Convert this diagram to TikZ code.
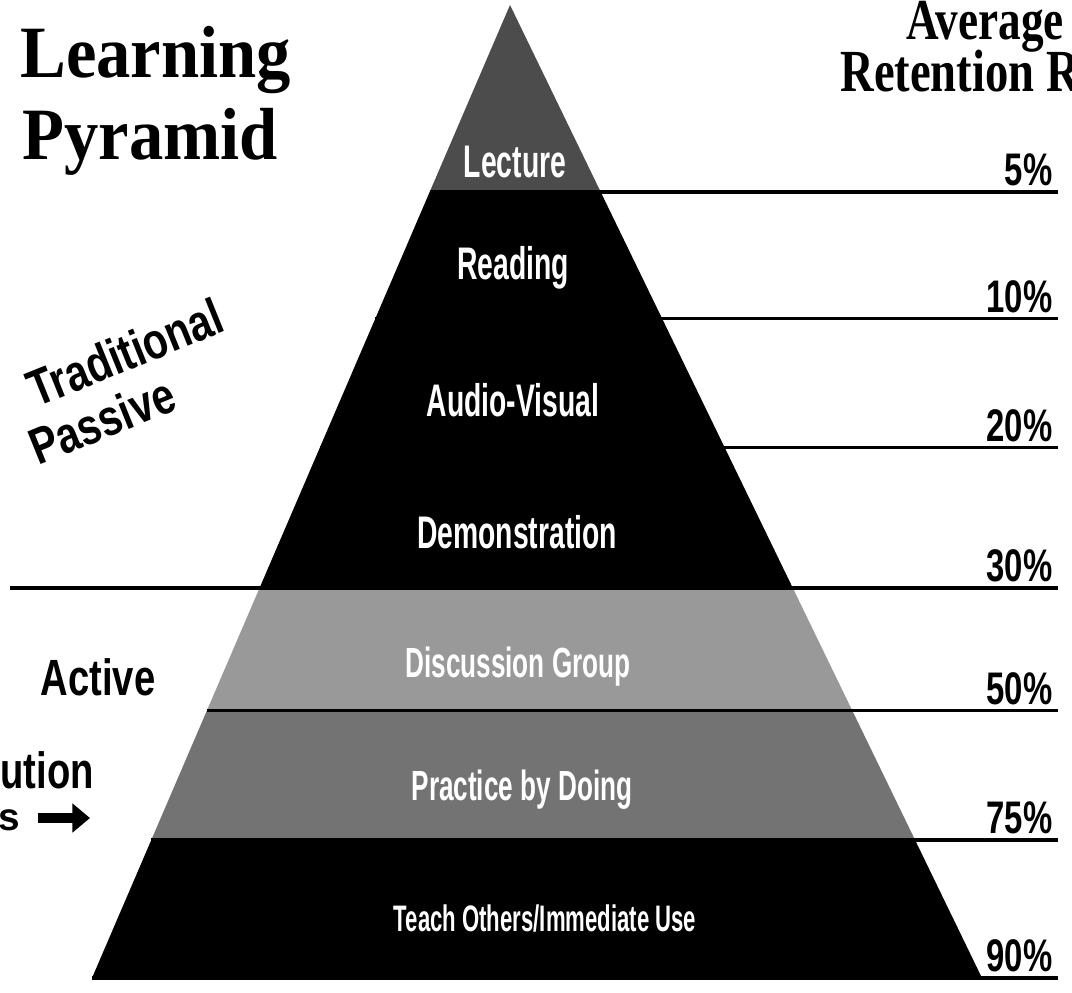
\documentclass[tikz,border=0pt]{standalone}
\usepackage{graphicx}
\usepackage{fontspec}
\setmainfont{Liberation Serif}
\newfontfamily\sansf{Liberation Sans}
\usetikzlibrary{calc, positioning, arrows.meta}

% condensed lettering
\newcommand{\squeeze}[2]{\scalebox{#1}[1]{#2}}

\begin{document}
\begin{tikzpicture}[x=0.02cm, y=-0.02cm,
    layer/.style={text=white, inner sep=0pt, font=\sansf\bfseries\fontsize{26}{28}\selectfont},
    pct/.style={anchor=south east, inner sep=3pt, font=\sansf\bfseries\fontsize{26}{28}\selectfont},
    rule/.style={line width=2pt},
    side/.style={inner sep=0pt, font=\sansf\bfseries\fontsize{29}{31}\selectfont},
    heading/.style={inner sep=0pt, anchor=base west, font=\bfseries\fontsize{42}{44}\selectfont}]

    \useasboundingbox (0,0) rectangle (1072,993);

    % Pyramid corners
    \coordinate (apex) at (510,5);
    \coordinate (bl) at (92,978);
    \coordinate (br) at (982,978);
    \coordinate (rend) at (1058,0);
    \coordinate (lend) at (10,0);

    % Bands
    \fill[black!70] (apex) -- ($(apex)!0.192!(br)$) -- ($(apex)!0.192!(bl)$) -- cycle;
    \foreach \ta/\tb/\col in {0.192/0.599/black, 0.599/0.725/black!40, 0.725/0.858/black!55, 0.858/1/black}
        \fill[\col] ($(apex)!\ta!(bl)$) -- ($(apex)!\ta!(br)$) -- ($(apex)!\tb!(br)$) -- ($(apex)!\tb!(bl)$) -- cycle;
    \draw[black!45, thin] ($(apex)!0.322!(bl)$) -- ($(apex)!0.322!(br)$);

    % Band labels
    \node[layer] (lecture) at (515,162) {\squeeze{0.62}{Lecture}};
    \node[layer] (reading) at (513,268) {\squeeze{0.62}{Reading}};
    \node[layer] (audio) at (513,400) {\squeeze{0.62}{Audio-Visual}};
    \node[layer] (demo) at (517,532) {\squeeze{0.62}{Demonstration}};
    \node[layer, font=\sansf\bfseries\fontsize{24}{26}\selectfont] (discuss) at (518,667) {\squeeze{0.62}{Discussion Group}};
    \node[layer, font=\sansf\bfseries\fontsize{24}{26}\selectfont] (practice) at (522,790) {\squeeze{0.62}{Practice by Doing}};
    \node[layer, font=\sansf\bfseries\fontsize{21}{23}\selectfont] (teach) at (545,918) {\squeeze{0.6}{Teach Others/Immediate Use}};

    % Retention rates
    \foreach \t/\p in {0.192/5, 0.322/10, 0.455/20, 0.599/30, 0.725/50, 0.858/75, 1/90} {
        \coordinate (e\p) at ($(apex)!\t!(br)$);
        \node[pct] (p\p) at (e\p -| rend) {\squeeze{0.72}{\p\%}};
    }
    \foreach \t/\p in {0.192/5, 0.322/10, 0.455/20, 0.725/50, 0.858/75, 1/90}
        \draw[rule] ($(apex)!\t!(bl)$) -- (p\p.south east);
    \draw[rule] (e30 -| lend) -- (p30.south east);

    % Titles
    \node[heading] (learn) at (20,78) {\squeeze{0.93}{Learning}};
    \node[heading] (pyr) at (22,160) {\squeeze{0.93}{Pyramid}};
    \node[heading, font=\bfseries\fontsize{33}{35}\selectfont] (avg) at (906,40) {\squeeze{0.78}{Average}};
    \node[heading, font=\bfseries\fontsize{34}{36}\selectfont] (ret) at (840,92) {\squeeze{0.78}{Retention R}};

    % Side notes
    \node[side, anchor=base west, rotate=22] (trad) at (36,408) {\squeeze{0.8}{Traditional}};
    \node[side, anchor=base west, rotate=22] (pass) at (38,466) {\squeeze{0.8}{Passive}};
    \node[side] (active) at (98,677) {\squeeze{0.75}{Active}};
    \node[side, anchor=base west] (ution) at (0,788) {\squeeze{0.75}{ution}};
    \node[side, anchor=base west, font=\sansf\bfseries\fontsize{22}{24}\selectfont] (sfrag) at (-2,830) {s};
    \coordinate (arrtip) at (90,818);
    \draw[line width=6pt, -{Triangle[length=10pt, width=16pt]}, shorten <=10pt] (sfrag.east |- arrtip) -- (arrtip);
\end{tikzpicture}
\end{document}
